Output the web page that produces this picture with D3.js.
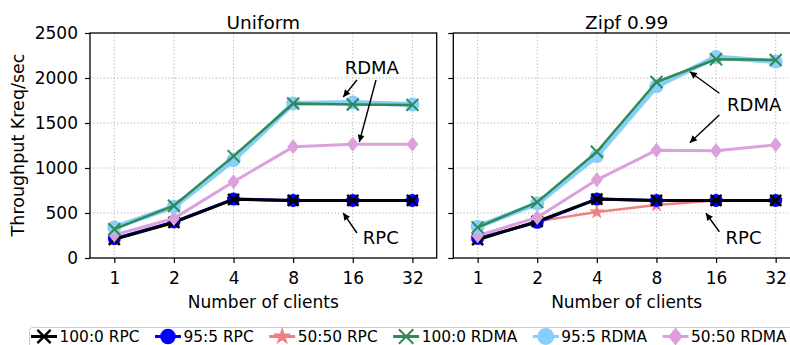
<!DOCTYPE html>
<html>
<head>
<meta charset="utf-8">
<script src="https://cdn.jsdelivr.net/npm/d3@7"></script>
<style>
  html, body { margin: 0; padding: 0; background: #fff; }
  svg { display: block; font-family: "DejaVu Sans", sans-serif; }
</style>
</head>
<body>
<svg id="chart" width="790" height="345"></svg>
<script>
// Client counts on the x axis (evenly spaced categories)
const clients = ["1", "2", "4", "8", "16", "32"];
const yTicks = [0, 500, 1000, 1500, 2000, 2500];

// Series names, in legend order
const seriesNames = ["100:0 RPC", "95:5 RPC", "50:50 RPC", "100:0 RDMA", "95:5 RDMA", "50:50 RDMA"];

// Throughput (Kreq/sec), uniform key distribution
const uniform_rpc_100 = [207, 395, 652, 640, 640, 640];
const uniform_rpc_95 = [214, 400, 655, 640, 640, 640];
const uniform_rpc_50 = [210, 400, 650, 640, 640, 640];
const uniform_rdma_100 = [320, 581, 1132, 1716, 1705, 1701];
const uniform_rdma_95 = [340, 570, 1087, 1716, 1727, 1705];
const uniform_rdma_50 = [255, 440, 847, 1235, 1265, 1265];

// Throughput (Kreq/sec), Zipf 0.99 key distribution
const zipf_rpc_100 = [203, 407, 655, 640, 640, 640];
const zipf_rpc_95 = [218, 396, 655, 640, 640, 640];
const zipf_rpc_50 = [218, 407, 510, 588, 640, 640];
const zipf_rdma_100 = [340, 621, 1180, 1956, 2208, 2200];
const zipf_rdma_95 = [348, 606, 1132, 1908, 2234, 2182];
const zipf_rdma_50 = [248, 451, 869, 1198, 1191, 1257];

// Visual style per series (same order as seriesNames)
const styles = [
  { color: "#000000", marker: "x", width: 3, size: 5.5, mstroke: 2.5 },
  { color: "#0000ff", marker: "circle", width: 3, size: 6.5 },
  { color: "#f08080", marker: "star", width: 2.5, size: 6.5 },
  { color: "#2e8b57", marker: "x", width: 2.5, size: 6, mstroke: 2 },
  { color: "#87cefa", marker: "circle", width: 5, size: 7 },
  { color: "#dda0dd", marker: "diamond", width: 3, size: 7.5 }
];
// Drawing order: RPC series first, RDMA on top; within a group the later legend entry goes below
const drawOrder = [2, 1, 0, 5, 4, 3];

// Callout labels: text anchor and arrows in data coordinates (category index, value)
const uniformNotes = [
  { text: "RDMA", at: [4.32, 2117], arrows: [[[4.07, 1978], [3.84, 1789]], [[4.39, 1978], [4.11, 1289]]] },
  { text: "RPC", at: [4.47, 228], arrows: [[[4.07, 278], [3.84, 500]]] }
];
const zipfNotes = [
  { text: "RDMA", at: [4.64, 1700], arrows: [[[4.055, 1830], [3.56, 2070]], [[4.055, 1589], [3.56, 1281]]] },
  { text: "RPC", at: [4.46, 228], arrows: [[[4.055, 292], [3.83, 497]]] }
];

const svg = d3.select("#chart");

svg.append("defs").append("marker")
  .attr("id", "arrowhead")
  .attr("viewBox", "0 0 10 10")
  .attr("refX", 10).attr("refY", 5)
  .attr("markerWidth", 8).attr("markerHeight", 7)
  .attr("markerUnits", "userSpaceOnUse")
  .attr("orient", "auto")
  .append("path").attr("d", "M0,0 L10,5 L0,10 z").attr("fill", "#000");

function markerPath(type, s) {
  if (type === "circle") return d3.symbol(d3.symbolCircle, Math.PI * s * s)();
  if (type === "star") return d3.symbol(d3.symbolStar, Math.PI * s * s * 0.55)();
  if (type === "diamond") return `M0,${-s}L${s * 0.8},0L0,${s}L${-s * 0.8},0Z`;
  return `M${-s},${-s}L${s},${s}M${-s},${s}L${s},${-s}`;
}

function drawMarker(g, st, x, y, scale = 1) {
  const p = g.append("path")
    .attr("d", markerPath(st.marker, st.size * scale))
    .attr("transform", `translate(${x},${y})`);
  if (st.marker === "x") {
    p.attr("fill", "none").attr("stroke", st.color).attr("stroke-width", st.mstroke);
  } else {
    p.attr("fill", st.color).attr("stroke", "none");
  }
}

function drawPanel(left, right, title, series, notes, showYLabels) {
  const top = 33, bottom = 258;
  const x = d3.scaleLinear().domain([-0.408, clients.length - 1 + 0.408]).range([left, right]);
  const y = d3.scaleLinear().domain([0, 2500]).range([bottom, top]);
  const g = svg.append("g");

  // dotted grid
  g.append("g").selectAll("line").data(clients.map((c, i) => i)).join("line")
    .attr("x1", d => x(d)).attr("x2", d => x(d)).attr("y1", top).attr("y2", bottom)
    .attr("stroke", "#b0b0b0").attr("stroke-width", 1).attr("stroke-dasharray", "1.2,2.2");
  g.append("g").selectAll("line").data(yTicks.slice(1, -1)).join("line")
    .attr("x1", left).attr("x2", right).attr("y1", d => y(d)).attr("y2", d => y(d))
    .attr("stroke", "#b0b0b0").attr("stroke-width", 1).attr("stroke-dasharray", "1.2,2.2");

  // axes
  const xAxis = d3.axisBottom(x).tickValues(clients.map((c, i) => i))
    .tickFormat(i => clients[i]).tickSize(5).tickPadding(4);
  const xg = g.append("g").attr("transform", `translate(0,${bottom})`).call(xAxis);
  xg.select(".domain").remove();
  xg.selectAll("line").attr("stroke", "#000").attr("stroke-width", 1.2);
  xg.selectAll("text").attr("font-size", 17).attr("font-family", "DejaVu Sans").attr("fill", "#000")
    .attr("dy", null).attr("y", 26);

  const yAxis = d3.axisLeft(y).tickValues(yTicks).tickSize(5).tickPadding(7)
    .tickFormat(showYLabels ? d3.format("d") : () => "");
  const yg = g.append("g").attr("transform", `translate(${left},0)`).call(yAxis);
  yg.select(".domain").remove();
  yg.selectAll("line").attr("stroke", "#000").attr("stroke-width", 1.2);
  yg.selectAll("text").attr("font-size", 17).attr("font-family", "DejaVu Sans").attr("fill", "#000");

  // series
  const line = d3.line().x((d, i) => x(i)).y(d => y(d));
  drawOrder.forEach(k => {
    const st = styles[k];
    g.append("path").datum(series[k]).attr("d", line)
      .attr("fill", "none").attr("stroke", st.color).attr("stroke-width", st.width)
      .attr("stroke-linejoin", "round");
    series[k].forEach((v, i) => drawMarker(g, st, x(i), y(v)));
  });

  // frame
  g.append("rect").attr("x", left).attr("y", top).attr("width", right - left).attr("height", bottom - top)
    .attr("fill", "none").attr("stroke", "#000").attr("stroke-width", 1.3);

  // title and x label
  g.append("text").attr("x", (left + right) / 2).attr("y", 29).attr("text-anchor", "middle")
    .attr("font-size", 18.5).text(title);
  g.append("text").attr("x", (left + right) / 2).attr("y", 308).attr("text-anchor", "middle")
    .attr("font-size", 17).text("Number of clients");

  // callouts
  notes.forEach(n => {
    g.append("text").attr("x", x(n.at[0])).attr("y", y(n.at[1])).attr("dy", "0.36em")
      .attr("text-anchor", "middle").attr("font-size", 18).text(n.text);
    n.arrows.forEach(a => {
      g.append("line")
        .attr("x1", x(a[0][0])).attr("y1", y(a[0][1]))
        .attr("x2", x(a[1][0])).attr("y2", y(a[1][1]))
        .attr("stroke", "#000").attr("stroke-width", 1.4)
        .attr("marker-end", "url(#arrowhead)");
    });
  });
  return { x, y };
}

drawPanel(90, 436.7, "Uniform",
  [uniform_rpc_100, uniform_rpc_95, uniform_rpc_50, uniform_rdma_100, uniform_rdma_95, uniform_rdma_50],
  uniformNotes, true);
drawPanel(453.3, 800, "Zipf 0.99",
  [zipf_rpc_100, zipf_rpc_95, zipf_rpc_50, zipf_rdma_100, zipf_rdma_95, zipf_rdma_50],
  zipfNotes, false);

// shared y label
svg.append("text").attr("transform", "translate(24,145) rotate(-90)")
  .attr("text-anchor", "middle").attr("font-size", 17.5).text("Throughput Kreq/sec");

// legend along the bottom
const legend = svg.append("g");
legend.append("rect").attr("x", 29.5).attr("y", 327.5).attr("width", 790).attr("height", 30)
  .attr("rx", 3).attr("fill", "#fff").attr("stroke", "#cccccc").attr("stroke-width", 1);
let cx = 31;
const ly = 336.5;
seriesNames.forEach((name, k) => {
  const st = styles[k];
  const item = legend.append("g");
  item.append("line").attr("x1", cx).attr("x2", cx + 26).attr("y1", ly).attr("y2", ly)
    .attr("stroke", st.color).attr("stroke-width", 3);
  drawMarker(item, st, cx + 13, ly, 1.2);
  const t = item.append("text").attr("x", cx + 28.5).attr("y", ly).attr("dy", "0.36em")
    .attr("font-size", 15.4).text(name);
  cx += 28.5 + t.node().getComputedTextLength() + 15.5;
});
</script>
</body>
</html>
